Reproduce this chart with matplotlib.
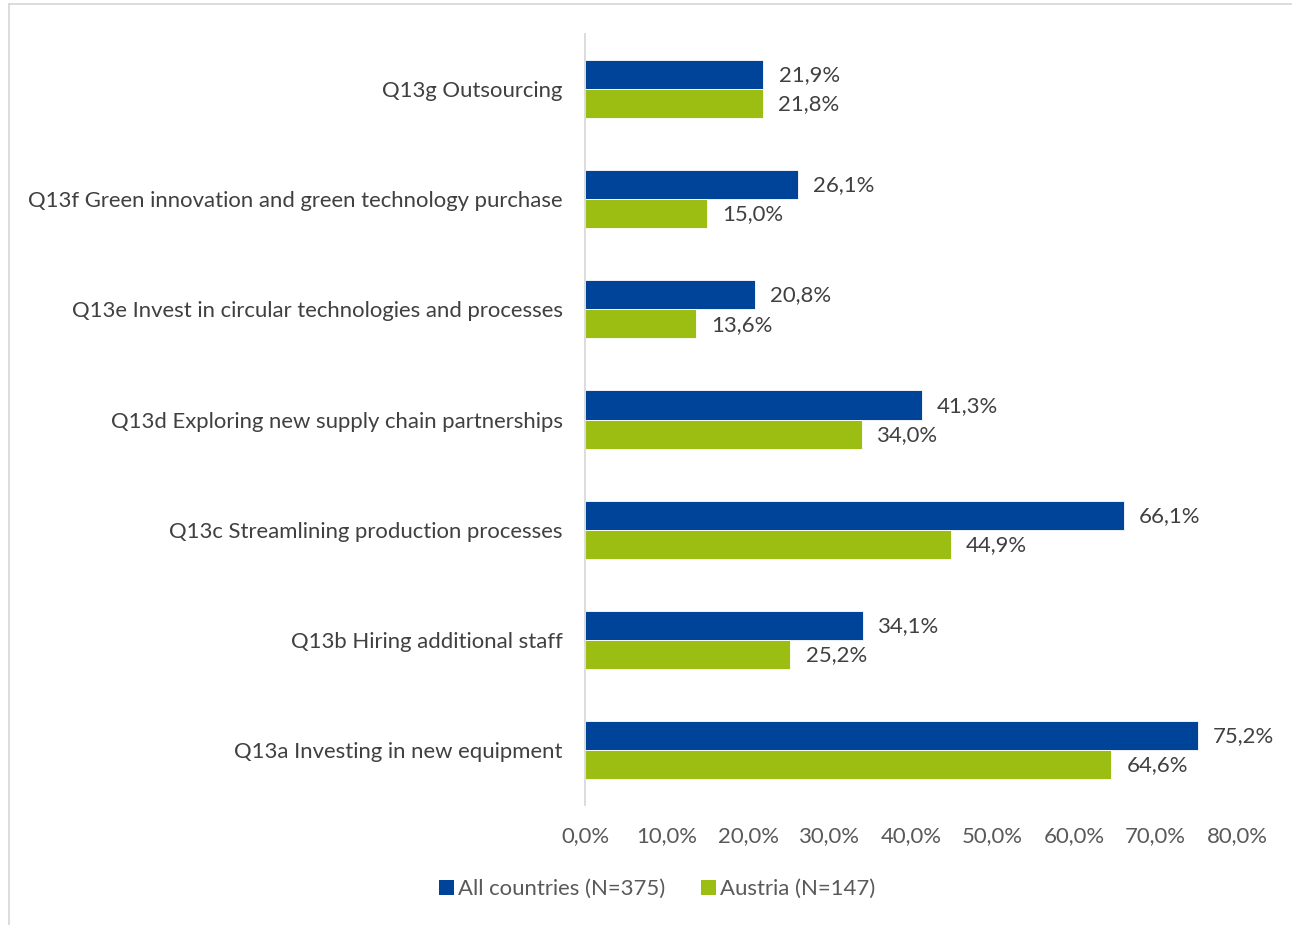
import matplotlib.pyplot as plt
import numpy as np
from matplotlib.lines import Line2D
from matplotlib.patches import Patch
from matplotlib.ticker import FuncFormatter

categories = [
    "Q13a Investing in new equipment",
    "Q13b Hiring additional staff",
    "Q13c Streamlining production processes",
    "Q13d Exploring new supply chain partnerships",
    "Q13e Invest in circular technologies and processes",
    "Q13f Green innovation and green technology purchase",
    "Q13g Outsourcing",
]
all_countries = [75.2, 34.1, 66.1, 41.3, 20.8, 26.1, 21.9]
austria = [64.6, 25.2, 44.9, 34.0, 13.6, 15.0, 21.8]
series_names = ["All countries (N=375)", "Austria (N=147)"]

blue = "#00449A"
green = "#9CBE12"
text_dark = "#404040"
text_grey = "#595959"
fs = 15.9

plt.rcParams["font.family"] = ["Lato", "DejaVu Sans"]

fig = plt.figure(figsize=(12.92, 9.25), dpi=100)
ax = fig.add_axes([0.4528, 0.1297, 0.5046, 0.8335])

y = np.arange(len(categories))
h = 0.264
bars_all = ax.barh(y + h / 2, all_countries, height=h, color=blue,
                   edgecolor="white", linewidth=0.6)
bars_at = ax.barh(y - h / 2, austria, height=h, color=green,
                  edgecolor="white", linewidth=0.6)

def pct(v):
    return f"{v:.1f}%".replace(".", ",")

for bars, vals in ((bars_all, all_countries), (bars_at, austria)):
    for b, v in zip(bars, vals):
        ax.annotate(pct(v), (v, b.get_y() + b.get_height() / 2),
                    xytext=(11, -0.5), textcoords="offset points",
                    ha="left", va="center", fontsize=fs, color=text_dark)

ax.set_xlim(0, 80)
ax.set_ylim(-0.5, len(categories) - 0.5)
ax.set_xticks(np.arange(0, 81, 10))
ax.xaxis.set_major_formatter(FuncFormatter(lambda v, _: pct(v)))
ax.set_yticks(y)
ax.set_yticklabels(categories)
ax.tick_params(axis="y", length=0, pad=16, labelsize=fs, labelcolor=text_dark)
ax.tick_params(axis="x", length=0, pad=15.5, labelsize=fs, labelcolor=text_grey)

for side in ("top", "right", "bottom"):
    ax.spines[side].set_visible(False)
ax.spines["left"].set_color("#D9D9D9")
ax.spines["left"].set_linewidth(1.3)

handles = [Patch(facecolor=blue), Patch(facecolor=green)]
fig.legend(handles, series_names, loc="center", bbox_to_anchor=(0.5085, 0.039),
           ncol=2, frameon=False, fontsize=fs, labelcolor=text_grey,
           handlelength=0.68, handleheight=0.68, handletextpad=0.2,
           columnspacing=1.6)

# thin chart-area frame along the top and left edges
fig.add_artist(Line2D([0.007, 0.007], [0, 0.9957], transform=fig.transFigure,
                      color="#D9D9D9", linewidth=1.3))
fig.add_artist(Line2D([0.007, 1.0], [0.9957, 0.9957], transform=fig.transFigure,
                      color="#D9D9D9", linewidth=1.3))

fig.savefig("out.png", dpi=100)
